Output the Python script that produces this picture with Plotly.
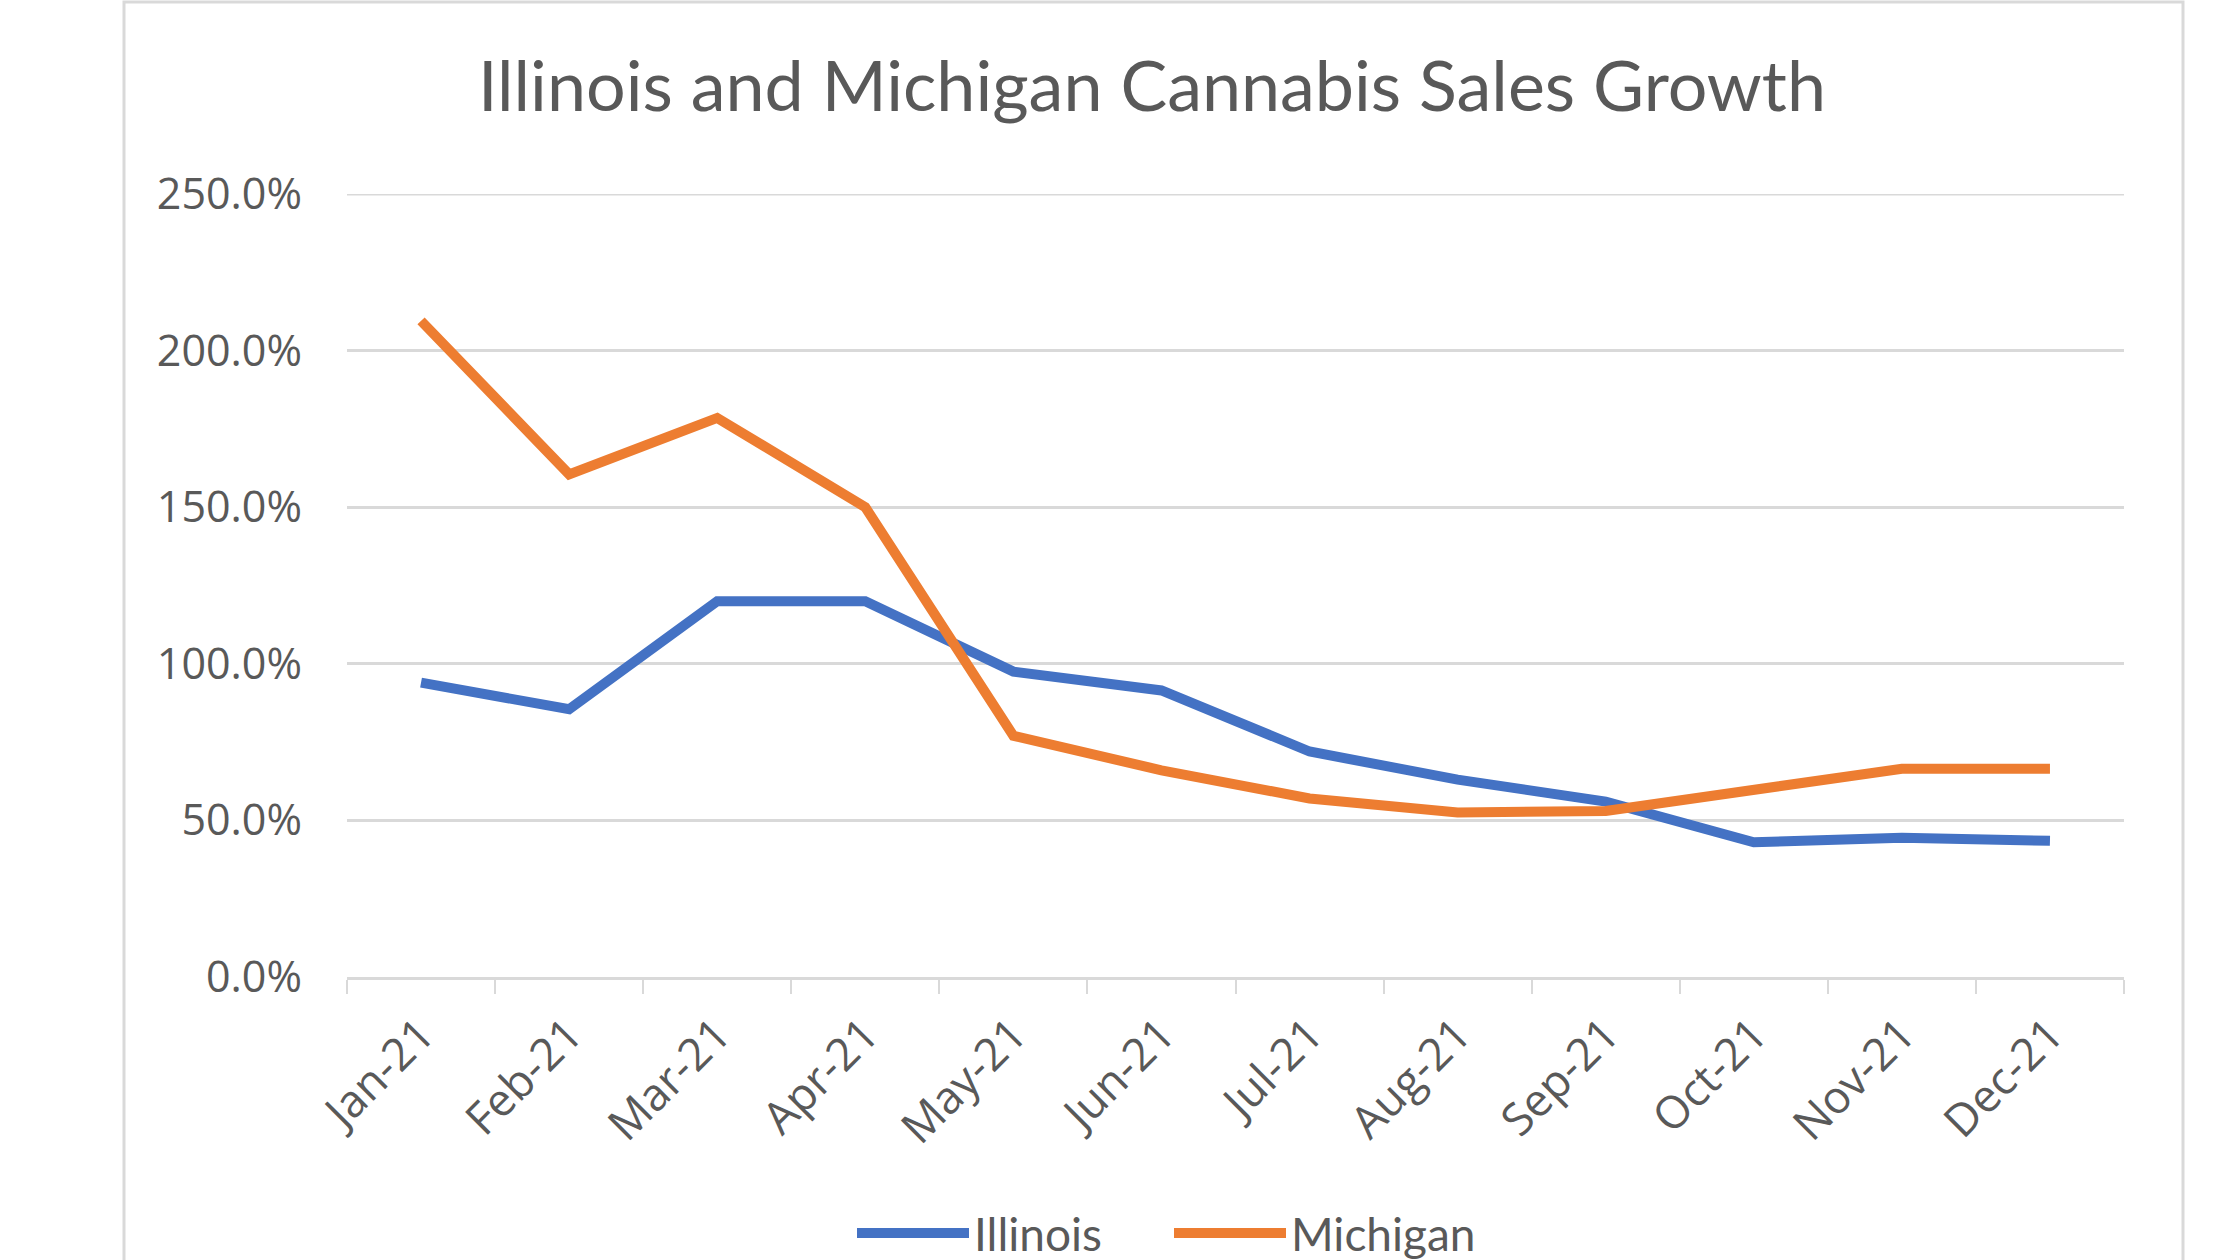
import plotly.graph_objects as go

months = ["Jan-21", "Feb-21", "Mar-21", "Apr-21", "May-21", "Jun-21",
          "Jul-21", "Aug-21", "Sep-21", "Oct-21", "Nov-21", "Dec-21"]
illinois = [94.0, 85.5, 120.0, 120.0, 97.5, 91.5, 72.0, 63.0, 56.0, 43.0, 44.5, 43.5]
michigan = [209.5, 160.5, 178.5, 150.0, 77.0, 66.0, 57.0, 52.5, 53.0, 60.0, 66.5, 66.5]
y_ticks = [0, 50, 100, 150, 200, 250]
y_labels = ["0.0%", "50.0%", "100.0%", "150.0%", "200.0%", "250.0%"]

W, H = 2240, 1260
L, R, T, B = 347, 2124, 194, 977

fig = go.Figure()
fig.add_trace(go.Scatter(x=months, y=illinois, mode="lines", name="Illinois",
                         line=dict(color="#4472C4", width=10)))
fig.add_trace(go.Scatter(x=months, y=michigan, mode="lines", name="Michigan",
                         line=dict(color="#ED7D31", width=10)))

pw, ph = R - L, B - T
def px_x(x):
    return (x - L) / pw
def px_y(y):
    return (B - y) / ph

fig.update_layout(
    width=W, height=H,
    margin=dict(l=L, r=W - R, t=T, b=H - B, autoexpand=False),
    paper_bgcolor="white", plot_bgcolor="white",
    title=dict(text="Illinois and Michigan Cannabis Sales Growth",
               x=1152 / W, xref="container", xanchor="center",
               y=1 - 86 / H, yref="container", yanchor="middle",
               font=dict(family="Lato", size=70, color="#595959")),
    xaxis=dict(type="category", tickangle=-45, tickson="boundaries",
               ticks="outside", ticklen=14, tickwidth=2, tickcolor="#d9d9d9",
               showline=True, linecolor="#d9d9d9", linewidth=3,
               ticklabelstandoff=10,
               showgrid=False, tickfont=dict(family="Open Sans", size=45, color="#595959"),
               range=[-0.5, 11.5]),
    yaxis=dict(range=[0, 250], tickvals=y_ticks, ticktext=y_labels,
               showgrid=True, gridcolor="#d9d9d9", gridwidth=3,
               zeroline=False, showline=False, ticks="",
               ticklabelstandoff=44,
               tickfont=dict(family="Open Sans", size=43, color="#595959")),
    legend=dict(orientation="h", x=px_x(852), xanchor="left",
                y=px_y(1233), yanchor="middle",
                font=dict(family="Lato", size=46, color="#595959"),
                itemwidth=112, entrywidth=190, entrywidthmode="pixels",
                bgcolor="rgba(0,0,0,0)"),
    shapes=[dict(type="rect", xref="paper", yref="paper",
                 x0=px_x(124), x1=px_x(2183), y0=px_y(1300), y1=px_y(2),
                 line=dict(color="#d9d9d9", width=3), fillcolor="rgba(0,0,0,0)",
                 layer="below"),
            dict(type="line", xref="paper", yref="y", x0=0, x1=1,
                 y0=250, y1=250, line=dict(color="#d9d9d9", width=3),
                 layer="below")],
)

fig.write_html("out.html", config={"displayModeBar": False},
               post_script="document.body.style.margin='0px';")
